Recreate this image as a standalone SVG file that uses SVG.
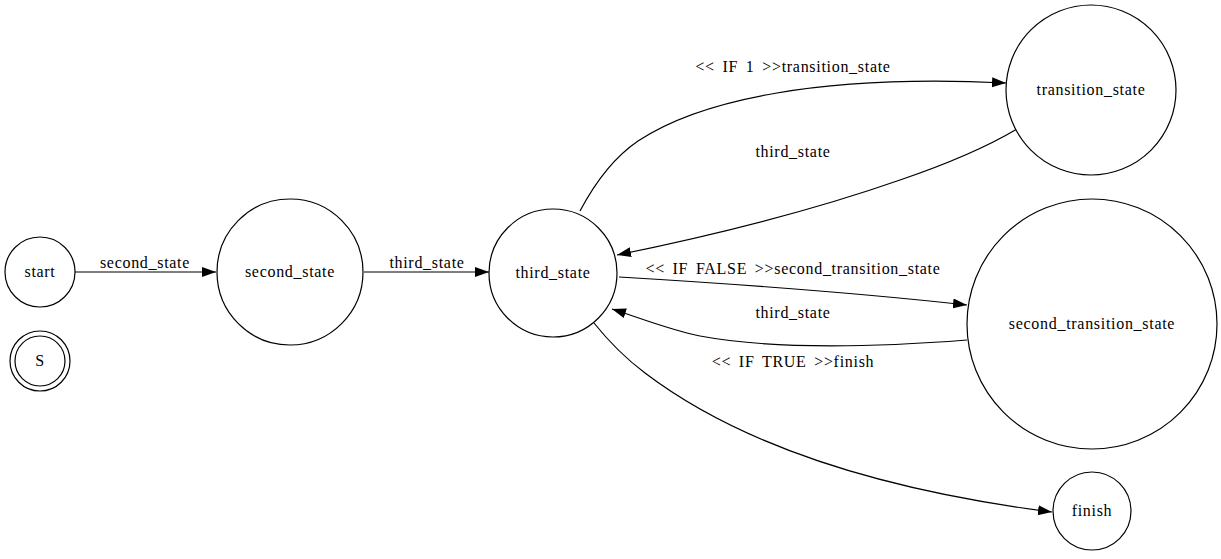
<svg xmlns="http://www.w3.org/2000/svg" width="1221" height="559" viewBox="0 0 1221 559">
<style>
.n{fill:#fff;stroke:#000;stroke-width:1.2}
.e{fill:none;stroke:#000;stroke-width:1.2}
text{font-family:"Liberation Serif","Times New Roman",serif;font-size:16px;letter-spacing:0.7px;word-spacing:3px;fill:#000;text-anchor:middle}
</style>
<defs>
<marker id="ah" markerWidth="15" markerHeight="11" refX="14" refY="5" orient="auto" markerUnits="userSpaceOnUse">
<path d="M0,0 L14,5 L0,10 z" fill="#000"/>
</marker>
</defs>
<rect width="1221" height="559" fill="#fff"/>
<g id="connectors">
<path class="e" d="M75,272 L216,272" marker-end="url(#ah)"/>
<text x="145" y="268">second_state</text>
<path class="e" d="M364,272 L489,272" marker-end="url(#ah)"/>
<text x="427" y="268">third_state</text>
<path class="e" d="M580,211 C598,177 616,156 638,141 C700,100 820,74 1006,83" marker-end="url(#ah)"/>
<text x="793" y="72">&lt;&lt; IF 1 &gt;&gt;transition_state</text>
<path class="e" d="M1017,129 C985,148 950,163 900,180 C820,208 720,234 617,255" marker-end="url(#ah)"/>
<text x="793" y="157">third_state</text>
<path class="e" d="M619,277 C720,283 850,292 967,305" marker-end="url(#ah)"/>
<text x="793" y="274">&lt;&lt; IF FALSE &gt;&gt;second_transition_state</text>
<path class="e" d="M967,340 C890,346 780,351 700,336 C670,330 640,318 612,309" marker-end="url(#ah)"/>
<text x="793" y="318">third_state</text>
<path class="e" d="M594,323 C610,343 625,358 645,373 C740,445 880,490 1052,512" marker-end="url(#ah)"/>
<text x="793" y="367">&lt;&lt; IF TRUE &gt;&gt;finish</text>
</g>
<g id="start">
<circle class="n" cx="40" cy="272" r="35"/>
<text x="40" y="277">start</text>
</g>
<g id="S">
<circle class="n" cx="40" cy="361" r="30"/>
<circle class="n" cx="40" cy="361" r="25"/>
<text x="40" y="366">S</text>
</g>
<g id="second_state">
<circle class="n" cx="290" cy="272" r="73"/>
<text x="290" y="277">second_state</text>
</g>
<g id="third_state">
<circle class="n" cx="553" cy="273" r="64"/>
<text x="553" y="278">third_state</text>
</g>
<g id="transition_state">
<circle class="n" cx="1091" cy="90" r="85"/>
<text x="1091" y="95">transition_state</text>
</g>
<g id="second_transition_state">
<circle class="n" cx="1092" cy="324" r="125"/>
<text x="1092" y="329">second_transition_state</text>
</g>
<g id="finish">
<circle class="n" cx="1092" cy="511" r="39"/>
<text x="1092" y="516">finish</text>
</g>
</svg>
